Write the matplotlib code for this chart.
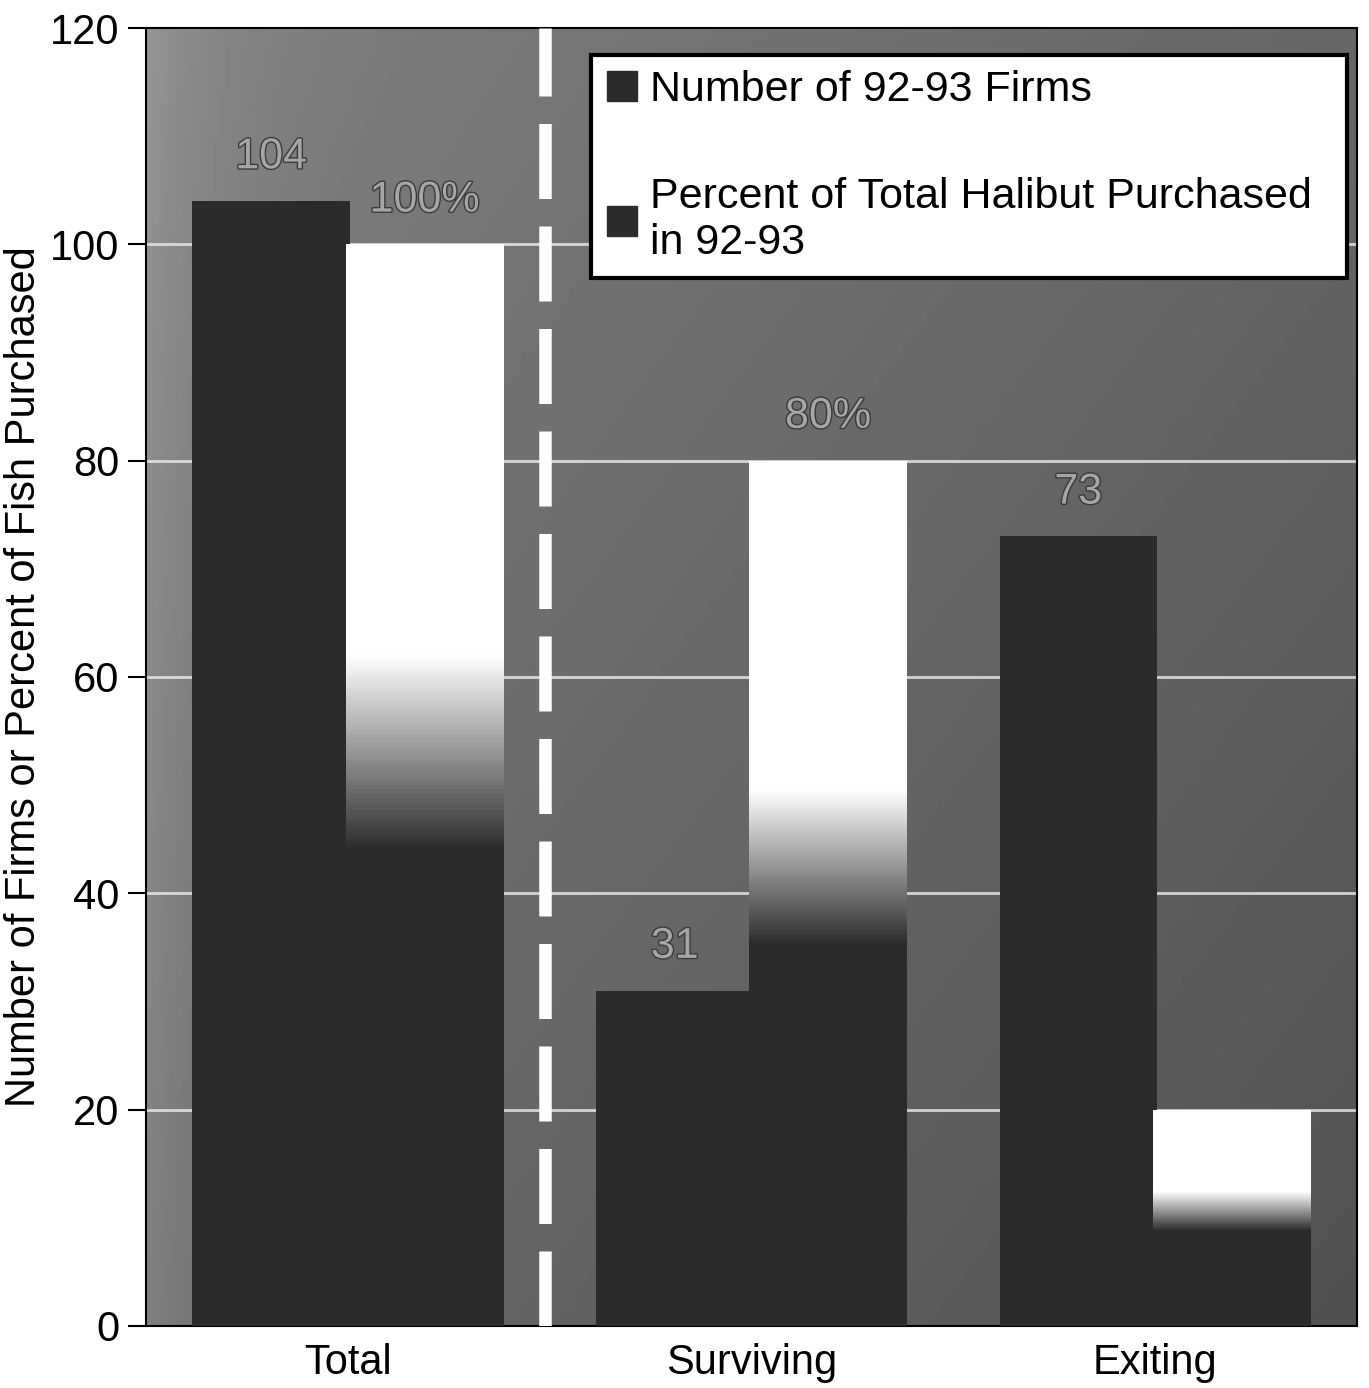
import numpy as np
import matplotlib
matplotlib.use('Agg')
import matplotlib.pyplot as plt
from matplotlib.patches import Patch
from matplotlib.colors import LinearSegmentedColormap
import matplotlib.patheffects as pe

plt.rcParams['font.family'] = ['Liberation Sans', 'DejaVu Sans']

# data
categories = ['Total', 'Surviving', 'Exiting']
firms = [104, 31, 73]
pct_purchased = [100, 80, 20]
firm_labels = ['104', '31', '73']
pct_labels = ['100%', '80%', '']
series_names = ['Number of 92-93 Firms',
                'Percent of Total Halibut Purchased\nin 92-93']

dark = '#2b2b2b'

fig = plt.figure(figsize=(13.69, 13.88), dpi=100)
ax = fig.add_axes([0.1066, 0.0447, 0.8844, 0.9351])

# greyish scanned background, lighter top-left, darker bottom-right
gy, gx = np.mgrid[0:1:200j, 0:1:200j]
bg = 0.50 - 0.10 * gx - 0.08 * gy + 0.08 * np.exp(-gx / 0.06)
ax.imshow(bg, cmap='gray', vmin=0, vmax=1, extent=(-0.5, 2.5, 0, 120),
          aspect='auto', origin='upper', zorder=0)

for yv in [20, 40, 60, 80, 100]:
    ax.axhline(yv, color='#e8e8e8', lw=2, alpha=0.85, zorder=1)

x = np.arange(len(categories))
w = 0.39
off = 0.19

dark_bars = ax.bar(x - off, firms, w, color=dark, zorder=3)
white_bars = ax.bar(x + off, pct_purchased, w, color=dark, zorder=3)

# white bars fade to dark towards the bottom (photocopy look)
fade = LinearSegmentedColormap.from_list(
    'fade', [(0, dark), (0.44, dark), (0.62, 'white'), (1, 'white')])
grad = np.linspace(1, 0, 256).reshape(-1, 1)
for rect in white_bars:
    x0 = rect.get_x()
    im = ax.imshow(grad, cmap=fade, vmin=0, vmax=1, aspect='auto',
                   extent=(x0, x0 + rect.get_width(), 0, rect.get_height()),
                   origin='upper', zorder=4)
    im.set_clip_path(rect)

# value labels
lab_kw = dict(ha='center', va='bottom', fontsize=31, color='#a6a6a6', zorder=6,
              path_effects=[pe.withStroke(linewidth=2, foreground='#3a3a3a')])
for xi, v, s in zip(x, firms, firm_labels):
    ax.text(xi - off, v + 2.2, s, **lab_kw)
for xi, v, s in zip(x, pct_purchased, pct_labels):
    if s:
        ax.text(xi + off, v + 2.2, s, **lab_kw)

# dashed divider between total and the split
ax.plot([0.49, 0.49], [0, 120], color='white', lw=9, dashes=(6, 2.2), zorder=5)

ax.set_xlim(-0.5, 2.5)
ax.set_ylim(0, 120)
ax.set_yticks(range(0, 121, 20))
ax.set_xticks(x)
ax.set_xticklabels(categories)
ax.tick_params(axis='y', labelsize=30, length=13, width=1.5, pad=6)
ax.tick_params(axis='x', labelsize=30, length=0, pad=12)
ax.set_ylabel('Number of Firms or Percent of Fish Purchased', fontsize=30,
              labelpad=4)
for sp in ax.spines.values():
    sp.set_color('black')
    sp.set_linewidth(1.5)

handles = [Patch(facecolor=dark, edgecolor=dark),
           Patch(facecolor=dark, edgecolor=dark)]
leg = ax.legend(handles, series_names, loc='upper left',
                bbox_to_anchor=(0.368, 0.811, 0.624, 0.168), mode='expand',
                fontsize=31, labelspacing=1.55, borderpad=0.35,
                handlelength=0.7, handleheight=0.7, handletextpad=0.3,
                fancybox=False, framealpha=1, edgecolor='black',
                borderaxespad=0)
leg.get_frame().set_linewidth(3)
leg.set_zorder(10)

fig.savefig('out.png', dpi=100)
